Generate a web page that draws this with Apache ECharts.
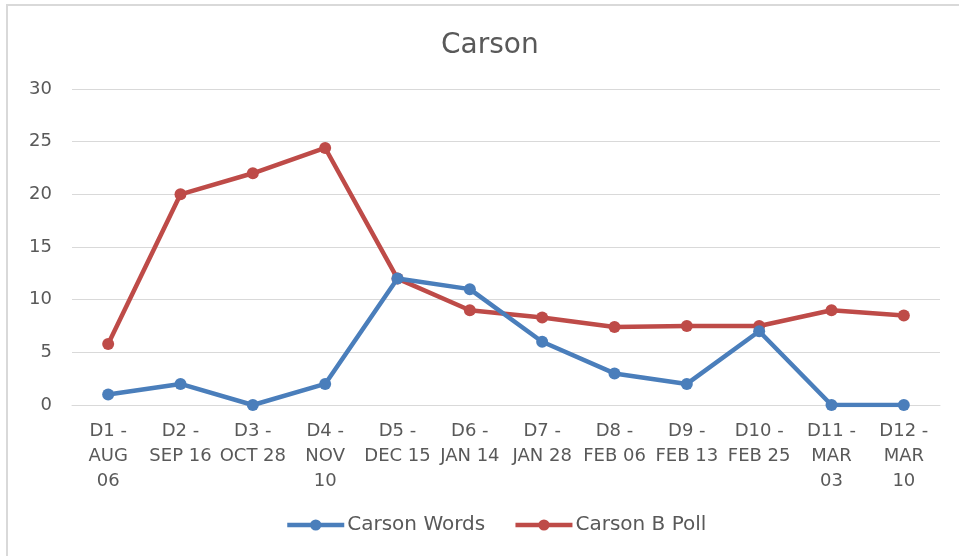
<!DOCTYPE html>
<html>
<head>
<meta charset="utf-8">
<script src="https://cdn.jsdelivr.net/npm/echarts@6/dist/echarts.min.js"></script>
<style>
  html, body { margin: 0; padding: 0; background: #fff; }
  #chart { width: 959px; height: 556px; }
</style>
</head>
<body>
<div id="chart"></div>
<script>
// Debate dates (category axis)
const categories = [
  'D1 -\nAUG\n06', 'D2 -\nSEP 16', 'D3 -\nOCT 28', 'D4 -\nNOV\n10',
  'D5 -\nDEC 15', 'D6 -\nJAN 14', 'D7 -\nJAN 28', 'D8 -\nFEB 06',
  'D9 -\nFEB 13', 'D10 -\nFEB 25', 'D11 -\nMAR\n03', 'D12 -\nMAR\n10'
];
// Share of words spoken per debate
const carsonWords = [1, 2, 0, 2, 12, 11, 6, 3, 2, 7, 0, 0];
// Poll standing at each debate
const carsonPoll = [5.8, 20, 22, 24.4, 12, 9, 8.3, 7.4, 7.5, 7.5, 9, 8.5];
const seriesNames = ['Carson Words', 'Carson B Poll'];
const yTicks = { min: 0, max: 30, interval: 5 };

const FONT = '"DejaVu Sans", "Open Sans", sans-serif';
const TEXT = '#595959';

const chart = echarts.init(document.getElementById('chart'), null, { renderer: 'canvas' });
chart.setOption({
  backgroundColor: '#ffffff',
  animation: false,
  title: {
    text: 'Carson',
    left: 436,
    top: 27,
    textStyle: { fontFamily: FONT, fontSize: 28, fontWeight: 'normal', color: TEXT }
  },
  graphic: [{
    type: 'rect',
    shape: { x: 7, y: 5, width: 1000, height: 600 },
    style: { fill: 'none', stroke: '#d9d9d9', lineWidth: 2 },
    silent: true
  }],
  legend: {
    bottom: 16,
    left: 280,
    itemWidth: 57,
    itemHeight: 14,
    itemGap: 28,
    lineStyle: { width: 4.5 },
    textStyle: { fontFamily: FONT, fontSize: 20, color: TEXT, padding: [0, 0, 0, -2] },
    data: seriesNames
  },
  grid: { left: 72, right: 19, top: 89, bottom: 151, containLabel: false },
  xAxis: {
    type: 'category',
    data: categories,
    boundaryGap: true,
    axisLine: { show: true, lineStyle: { color: '#d9d9d9', width: 1 } },
    axisTick: { show: false },
    axisLabel: {
      interval: 0,
      margin: 14,
      lineHeight: 25,
      fontFamily: FONT,
      fontSize: 18,
      color: TEXT,
      align: 'center'
    }
  },
  yAxis: {
    type: 'value',
    min: yTicks.min,
    max: yTicks.max,
    interval: yTicks.interval,
    axisLine: { show: false },
    axisTick: { show: false },
    axisLabel: { fontFamily: FONT, fontSize: 18, color: TEXT, margin: 20 },
    splitLine: { lineStyle: { color: '#d9d9d9', width: 1 } }
  },
  series: [
    {
      name: seriesNames[0],
      type: 'line',
      data: carsonWords,
      symbol: 'circle',
      symbolSize: 12,
      lineStyle: { color: '#4a7ebb', width: 4.5 },
      itemStyle: { color: '#4a7ebb' },
      z: 3
    },
    {
      name: seriesNames[1],
      type: 'line',
      data: carsonPoll,
      symbol: 'circle',
      symbolSize: 12,
      lineStyle: { color: '#be4b48', width: 4.5 },
      itemStyle: { color: '#be4b48' },
      z: 2
    }
  ]
});
</script>
</body>
</html>
